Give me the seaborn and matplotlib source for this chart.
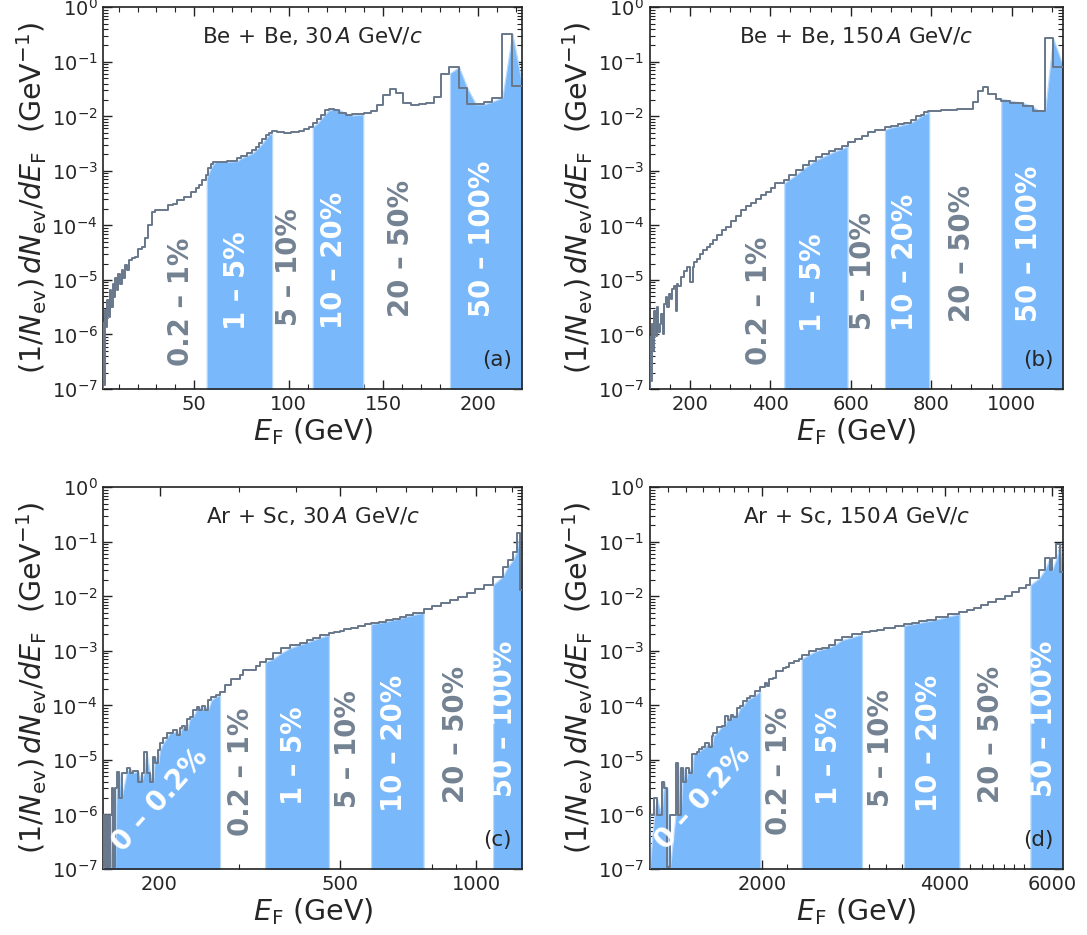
import numpy as np
import matplotlib
matplotlib.use('Agg')
import matplotlib.pyplot as plt
import seaborn as sns
from matplotlib.ticker import (FixedLocator, FixedFormatter, NullFormatter,
                               LogLocator, MultipleLocator)

sns.set_style('ticks')
plt.rcParams['font.family'] = ['DejaVu Sans']
plt.rcParams['mathtext.fontset'] = 'dejavusans'

# ---------------- data (bin right edges, GeV ; 1/N dN/dE, GeV^-1) ----------------
be30_e = [1.9, 2.3, 2.8, 3.3, 4.0, 4.7, 5.4, 6.1, 6.8, 7.6, 8.3, 9.0, 9.8, 10.7, 11.6,
          12.5, 13.4, 14.2, 15.7, 16.9, 18.7, 20.4, 22.2, 24.0, 25.7, 27.5, 29.2, 31.0,
          33.6, 36.3, 38.9, 41.0, 44.6, 48.1, 50.7, 52.5, 54.3, 56.0, 57.3, 58.7, 60.1,
          61.3, 67.5, 72.8, 74.6, 78.1, 80.7, 82.5, 84.3, 86.0, 87.8, 89.5, 91.3, 94.0,
          97.5, 101.0, 105.4, 108.1, 110.7, 113.0, 115.1, 116.9, 119.0, 121.3, 123.9,
          126.6, 130.1, 133.6, 139.8, 143.4, 146.9, 150.1, 153.6, 156.6, 160.6, 164.5,
          169.0, 172.5, 176.9, 180.8, 184.8, 190.1, 194.5, 199.0, 203.4, 207.7, 213.0,
          218.3, 223.6]
be30_dn = [1.0e-7, 1.6e-6, 1.2e-7, 2.8e-6, 1.35e-6, 4.2e-6, 2.1e-6, 6.5e-6, 3.2e-6, 8.5e-6,
           4.9e-6, 1.1e-5, 6.5e-6, 1.3e-5, 8.5e-6, 1.5e-5, 1.1e-5, 1.9e-5, 1.5e-5, 2.3e-5,
           2.5e-5, 2.6e-5, 3.7e-5, 4.0e-5, 5.8e-5, 1.0e-4, 1.75e-4, 1.95e-4, 1.95e-4, 1.9e-4,
           2.35e-4, 2.5e-4, 2.9e-4, 3.35e-4, 4.15e-4, 4.9e-4, 5.5e-4, 6.8e-4, 8.4e-4, 1.11e-3,
           1.32e-3, 1.47e-3, 1.47e-3, 1.51e-3, 1.69e-3, 1.9e-3, 2.1e-3, 2.38e-3, 2.73e-3,
           3.2e-3, 3.84e-3, 4.54e-3, 5.0e-3, 5.4e-3, 5.2e-3, 5.0e-3, 5.1e-3, 5.5e-3, 5.9e-3,
           6.5e-3, 7.4e-3, 8.8e-3, 1.06e-2, 1.29e-2, 1.38e-2, 1.32e-2, 1.14e-2, 1.04e-2,
           1.09e-2, 1.15e-2, 1.25e-2, 1.61e-2, 2.46e-2, 3.18e-2, 2.64e-2, 1.78e-2, 1.61e-2,
           1.66e-2, 1.78e-2, 2.3e-2, 6.0e-2, 8.0e-2, 3.27e-2, 1.66e-2, 1.66e-2, 1.86e-2,
           2.2e-2, 0.33, 3.6e-2]

be150_e = [100.0, 102.3, 105.5, 108.8, 112.0, 115.3, 118.6, 121.8, 125.1, 128.4, 132.4,
           136.5, 140.6, 144.6, 148.7, 152.8, 156.8, 160.9, 165.0, 169.0, 171.5, 177.2,
           185.3, 193.4, 201.5, 208.0, 211.4, 217.9, 226.0, 234.1, 242.2, 250.4, 258.5,
           266.6, 278.9, 291.1, 303.3, 315.5, 327.6, 339.9, 352.1, 364.2, 376.4, 388.7,
           400.9, 413.0, 435.0, 447.5, 463.9, 480.2, 496.5, 512.8, 529.2, 545.5, 561.8,
           578.2, 592.9, 610.9, 627.2, 643.6, 659.9, 686.0, 700.7, 717.0, 733.4, 749.7,
           762.0, 774.2, 782.4, 792.2, 823.1, 864.0, 904.9, 917.1, 929.4, 941.6, 962.0,
           974.3, 994.7, 1027.4, 1051.8, 1068.2, 1083.0, 1102.7, 1128.4]
be150_dn = [1.0e-7, 8.9e-7, 1.4e-7, 1.55e-6, 5.0e-7, 2.75e-6, 9.5e-7, 3.2e-6, 1.1e-6, 1.55e-6,
            2.4e-6, 1.0e-6, 3.6e-6, 4.8e-6, 3.2e-6, 5.6e-6, 4.5e-6, 6.9e-6, 7.9e-6, 2.75e-6,
            8.5e-6, 7.9e-6, 1.12e-5, 1.48e-5, 1.74e-5, 9.1e-6, 1.74e-5, 2.14e-5, 2.45e-5,
            3.0e-5, 3.5e-5, 4.0e-5, 4.5e-5, 5.4e-5, 6.6e-5, 8.1e-5, 9.5e-5, 1.2e-4, 1.5e-4,
            1.9e-4, 2.24e-4, 2.57e-4, 3.1e-4, 3.55e-4, 4.1e-4, 4.9e-4, 6.0e-4, 6.9e-4, 8.4e-4,
            1.06e-3, 1.29e-3, 1.55e-3, 1.78e-3, 2.02e-3, 2.3e-3, 2.53e-3, 2.84e-3, 3.36e-3,
            3.86e-3, 4.45e-3, 5.1e-3, 5.7e-3, 6.25e-3, 6.6e-3, 7.1e-3, 7.6e-3, 8.6e-3, 1.0e-2,
            1.07e-2, 1.19e-2, 1.26e-2, 1.3e-2, 1.355e-2, 1.87e-2, 2.86e-2, 3.44e-2, 2.6e-2,
            2.1e-2, 1.95e-2, 1.77e-2, 1.52e-2, 1.27e-2, 1.28e-2, 0.27, 8.1e-2]

ar30_e = [150.3, 151.6, 153.0, 154.2, 155.5, 156.8, 157.6, 159.5, 160.8, 163.0, 164.9,
          169.2, 172.1, 175.0, 179.4, 182.6, 184.8, 187.2, 190.5, 193.7, 195.4, 198.8,
          200.4, 203.8, 207.3, 211.1, 214.4, 218.2, 221.9, 223.8, 227.5, 230.3, 233.3,
          237.3, 241.4, 244.7, 247.6, 251.8, 256.1, 260.4, 267.1, 271.8, 278.8, 288.3,
          300.7, 305.9, 316.3, 327.2, 332.7, 344.1, 356.0, 371.5, 387.6, 407.6, 422.2,
          437.0, 452.9, 473.0, 485.6, 500.0, 511.8, 529.6, 549.0, 568.4, 585.6, 609.6,
          631.4, 653.8, 677.0, 701.0, 726.3, 765.0, 799.7, 834.0, 872.8, 911.0, 952.6,
          995.0, 1039.0, 1089.0, 1144.0, 1174.0, 1205.0, 1227.0, 1249.0, 1264.0]
ar30_dn = [1.0e-7, 9.8e-7, 1.1e-7, 9.8e-7, 1.1e-7, 9.8e-7, 3.0e-6, 1.1e-7, 3.0e-6, 5.9e-6,
           2.0e-6, 5.75e-6, 7.1e-6, 5.75e-6, 6.2e-6, 4.0e-6, 5.75e-6, 1.38e-5, 5.75e-6,
           4.0e-6, 1.15e-5, 8.7e-6, 1.5e-5, 2.04e-5, 2.5e-5, 3.16e-5, 3.1e-5, 3.47e-5,
           2.9e-5, 3.8e-5, 4.2e-5, 3.6e-5, 5.75e-5, 6.2e-5, 8.3e-5, 9.5e-5, 8.3e-5, 9.8e-5,
           8.3e-5, 1.26e-4, 1.45e-4, 1.55e-4, 1.78e-4, 2.4e-4, 3.0e-4, 3.6e-4, 4.4e-4,
           4.4e-4, 5.25e-4, 6.3e-4, 7.1e-4, 9.1e-4, 1.12e-3, 1.29e-3, 1.42e-3, 1.58e-3,
           1.75e-3, 1.96e-3, 2.1e-3, 2.19e-3, 2.29e-3, 2.49e-3, 2.64e-3, 2.86e-3, 3.08e-3,
           3.25e-3, 3.44e-3, 3.69e-3, 3.91e-3, 4.25e-3, 4.56e-3, 5.04e-3, 5.8e-3, 6.67e-3,
           7.46e-3, 8.59e-3, 9.9e-3, 1.14e-2, 1.35e-2, 1.62e-2, 2.3e-2, 3.5e-2, 4.6e-2,
           6.6e-2, 0.143, 1.3e-2]

ar150_e = [1306, 1330, 1343, 1367, 1381, 1389, 1398, 1403, 1412, 1442, 1455, 1469, 1484,
           1497, 1516, 1535, 1544, 1563, 1573, 1593, 1613, 1633, 1654, 1664, 1685, 1717,
           1739, 1760, 1776, 1794, 1817, 1840, 1863, 1887, 1911, 1945, 1987, 2019, 2037,
           2057, 2083, 2109, 2162, 2189, 2216, 2258, 2302, 2330, 2389, 2449, 2510, 2573,
           2639, 2705, 2808, 2920, 3016, 3096, 3176, 3305, 3424, 3527, 3620, 3742, 3864,
           4046, 4224, 4348, 4461, 4580, 4700, 4856, 5018, 5150, 5286, 5425, 5527, 5712,
           5832, 5948, 6000, 6100, 6186, 6262]
ar150_dn = [1.0e-7, 9.8e-7, 2.0e-6, 9.8e-7, 4.0e-6, 3.0e-6, 3.0e-6, 1.1e-7, 1.1e-7, 9.8e-7,
            8.9e-6, 9.8e-7, 7.1e-6, 4.0e-6, 7.1e-6, 5.75e-6, 1.29e-5, 1.29e-5, 1.41e-5,
            1.58e-5, 1.74e-5, 2.04e-5, 1.74e-5, 2.75e-5, 3.1e-5, 4.1e-5, 4.2e-5, 6.5e-5,
            5.4e-5, 6.8e-5, 6.2e-5, 8.9e-5, 9.8e-5, 1.23e-4, 1.35e-4, 1.48e-4, 1.86e-4,
            2.2e-4, 2.57e-4, 2.3e-4, 3.0e-4, 3.16e-4, 4.2e-4, 4.8e-4, 5.1e-4, 5.9e-4, 6.6e-4,
            7.2e-4, 8.5e-4, 9.8e-4, 1.07e-3, 1.15e-3, 1.29e-3, 1.58e-3, 1.77e-3, 2.01e-3,
            2.19e-3, 2.29e-3, 2.42e-3, 2.64e-3, 2.9e-3, 3.08e-3, 3.25e-3, 3.49e-3, 3.74e-3,
            4.25e-3, 4.75e-3, 5.18e-3, 5.64e-3, 6.21e-3, 6.86e-3, 7.78e-3, 8.95e-3, 1.02e-2,
            1.19e-2, 1.41e-2, 1.62e-2, 2.14e-2, 3.0e-2, 5.0e-2, 3.0e-2, 5.0e-2, 9.3e-2, 2.8e-2]

# centrality cut positions (GeV): blue-band intervals
be30_bands = [(56.6, 91.2), (112.7, 139.4), (185.3, 223.6)]
be150_bands = [(435.0, 592.0), (685.0, 795.0), (974.0, 1128.4)]
ar30_bands = [(150.3, 272.0), (342.0, 473.0), (586.0, 765.0), (1089.0, 1264.0)]
ar150_bands = [(1306.0, 1987.0), (2324.0, 2920.0), (3424.0, 4224.0), (5527.0, 6262.0)]

classes6 = ['0.2 – 1%', '1 – 5%', '5 – 10%', '10 – 20%', '20 – 50%', '50 – 100%']
classes7 = ['0 – 0.2%'] + classes6

titles = ['Be$\\,+\\,$Be, 30$\\,A$ GeV/$c$', 'Be$\\,+\\,$Be, 150$\\,A$ GeV/$c$',
          'Ar$\\,+\\,$Sc, 30$\\,A$ GeV/$c$', 'Ar$\\,+\\,$Sc, 150$\\,A$ GeV/$c$']
letters = ['(a)', '(b)', '(c)', '(d)']

# ---------------- style ----------------
LINE = '#68778a'
BLUE = '#78b8fb'
EDGE = '#b7d9fd'
GRAYTXT = '#738292'
WHITE = 'white'

W, H = 1087, 935
fig = plt.figure(figsize=(W / 100, H / 100), dpi=100)


def add_ax(l, t, w, h):
    return fig.add_axes([l / W, 1 - (t + h) / H, w / W, h / H])


def draw(ax, e, dn, xlim, bands, title, letter, labels, lpos, lcol, lrot):
    e = np.asarray(e, float)
    dn = np.asarray(dn, float)
    ax.set_yscale('log')
    for a, b in bands:
        lo, hi = max(a, xlim[0]), min(b, xlim[1])
        m = (e > lo) & (e < hi)
        xs = np.concatenate([[lo], e[m], [hi]])
        ys = 10 ** np.interp(xs, e, np.log10(dn))
        ax.fill_between(xs, ys, 1e-9, facecolor=BLUE, edgecolor=EDGE, lw=0.9, zorder=1)
    sns.lineplot(x=e, y=dn, ax=ax, drawstyle='steps-pre', color=LINE, lw=1.4,
                 estimator=None, sort=False, zorder=3)
    ax.set_xlim(*xlim)
    ax.set_ylim(1e-7, 1)
    ax.yaxis.set_major_locator(LogLocator(base=10, numticks=20))
    ax.yaxis.set_minor_locator(LogLocator(base=10, subs=np.arange(2, 10), numticks=20))
    ax.yaxis.set_minor_formatter(NullFormatter())
    ax.tick_params(which='both', direction='in', top=True, right=True, labelsize=14,
                   color='#222222', pad=4)
    ax.tick_params(which='major', length=6.5, width=1.0)
    ax.tick_params(which='minor', length=3.5, width=0.8)
    for s in ax.spines.values():
        s.set_linewidth(1.2)
        s.set_color('#222222')
    ax.set_xlabel(r'$E_{\mathrm{F}}$ (GeV)', fontsize=20.5, labelpad=2)
    ax.set_ylabel(r'$(1/N_{\mathrm{ev}})\,dN_{\mathrm{ev}}/dE_{\mathrm{F}}$  (GeV$^{-1}$)',
                  fontsize=20.5, labelpad=2)
    ax.text(0.5, 0.925, title, transform=ax.transAxes, ha='center', va='center',
            fontsize=15.5, zorder=5)
    ax.text(0.94, 0.075, letter, transform=ax.transAxes, ha='center', va='center',
            fontsize=15.5, zorder=5)
    for s, (x, y), c, r in zip(labels, lpos, lcol, lrot):
        ax.text(x, y, s, transform=ax.transAxes, ha='center', va='center',
                rotation=r, rotation_mode='anchor', fontsize=19.8, fontweight='bold',
                color=c, zorder=4)


axa = add_ax(103.3, 7.3, 419.1, 381.7)
axb = add_ax(649.5, 7.3, 413.9, 381.7)
axc = add_ax(103.3, 487.3, 419.1, 381.7)
axd = add_ax(649.5, 487.3, 413.9, 381.7)

col6 = [GRAYTXT, WHITE, GRAYTXT, WHITE, GRAYTXT, WHITE]
col7 = [WHITE] + col6

draw(axa, be30_e, be30_dn, (1.9, 223.6), be30_bands, titles[0], letters[0], classes6,
     [(0.185, 0.229), (0.320, 0.285), (0.443, 0.320), (0.550, 0.338), (0.710, 0.368),
      (0.903, 0.394)], col6, [90] * 6)
draw(axb, be150_e, be150_dn, (100, 1128.4), be150_bands, titles[1], letters[1], classes6,
     [(0.265, 0.231), (0.396, 0.279), (0.517, 0.310), (0.617, 0.332), (0.756, 0.355),
      (0.916, 0.380)], col6, [90] * 6)
draw(axc, ar30_e, ar30_dn, (150.3, 1264), ar30_bands, titles[2], letters[2], classes7,
     [(0.135, 0.180), (0.329, 0.255), (0.456, 0.296), (0.583, 0.314), (0.694, 0.329),
      (0.842, 0.353), (0.957, 0.394)], col7, [48] + [90] * 6)
draw(axd, ar150_e, ar150_dn, (1306, 6262), ar150_bands, titles[3], letters[3], classes7,
     [(0.130, 0.185), (0.313, 0.257), (0.434, 0.297), (0.559, 0.316), (0.675, 0.329),
      (0.825, 0.353), (0.953, 0.394)], col7, [48] + [90] * 6)

# x ticks
axa.xaxis.set_major_locator(MultipleLocator(50))
axa.xaxis.set_minor_locator(MultipleLocator(10))
axb.xaxis.set_major_locator(FixedLocator([200, 400, 600, 800, 1000]))
axb.xaxis.set_minor_locator(MultipleLocator(50))

axc.set_xscale('log')
axc.set_xlim(150.3, 1264)
axc.xaxis.set_major_locator(FixedLocator([200, 500, 1000]))
axc.xaxis.set_major_formatter(FixedFormatter(['200', '500', '1000']))
axc.xaxis.set_minor_locator(FixedLocator([300, 400, 600, 700, 800, 900, 1100, 1200]))
axc.xaxis.set_minor_formatter(NullFormatter())

axd.set_xscale('log')
axd.set_xlim(1306, 6262)
axd.xaxis.set_major_locator(FixedLocator([2000, 4000, 6000]))
axd.xaxis.set_major_formatter(FixedFormatter(['2000', '4000', '6000']))
dminor = list(range(1400, 2000, 100)) + [v for v in range(2200, 6300, 200) if v not in (4000, 6000)]
axd.xaxis.set_minor_locator(FixedLocator(dminor))
axd.xaxis.set_minor_formatter(NullFormatter())

for ax in (axc, axd):
    ax.tick_params(which='both', direction='in', top=True, right=True, labelsize=14)

fig.savefig('out.png', dpi=100)
